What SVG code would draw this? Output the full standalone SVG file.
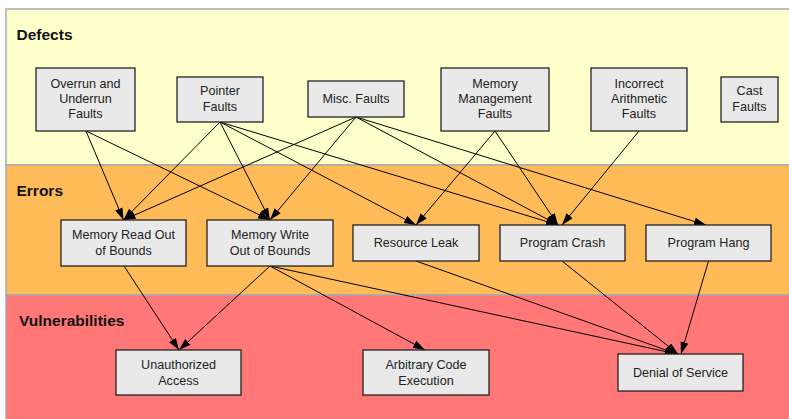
<svg xmlns="http://www.w3.org/2000/svg" width="789" height="419" viewBox="0 0 789 419">
<defs>
<marker id="arr" markerWidth="13" markerHeight="9" refX="12" refY="4" orient="auto" markerUnits="userSpaceOnUse">
<path d="M0,0 L12,4 L0,8 z" fill="#000"/>
</marker>
<style>
.band{stroke:#aaaaaa;stroke-width:1.5}
.title{font-family:"Liberation Sans",Arial,sans-serif;font-weight:bold;font-size:15.5px;fill:#111}
.box{fill:#e9e9e9;stroke:#222;stroke-width:1.3}
.lbl{font-family:"Liberation Sans",Arial,sans-serif;font-size:12.6px;fill:#222;text-anchor:middle}
.edge{stroke:#000;stroke-width:1;fill:none;marker-end:url(#arr)}
</style>
</defs>
<rect width="789" height="419" fill="#ffffff"/>
<g id="bands">
<rect class="band" x="6" y="9" width="790" height="156" fill="#ffffcc"/>
<rect class="band" x="6" y="165" width="790" height="130" fill="#ffbb58"/>
<rect class="band" x="6" y="295" width="790" height="130" fill="#ff7777"/>
<text class="title" x="16.5" y="40">Defects</text>
<text class="title" x="16.5" y="196">Errors</text>
<text class="title" x="19" y="326">Vulnerabilities</text>
</g>
<g id="connectors">
<line class="edge" x1="86" y1="131" x2="123.5" y2="220"/>
<line class="edge" x1="86" y1="131" x2="270" y2="220"/>
<line class="edge" x1="220" y1="122" x2="123.5" y2="220"/>
<line class="edge" x1="220" y1="122" x2="270" y2="220"/>
<line class="edge" x1="220" y1="122" x2="416" y2="225"/>
<line class="edge" x1="220" y1="122" x2="558" y2="225"/>
<line class="edge" x1="356" y1="117" x2="123.5" y2="220"/>
<line class="edge" x1="356" y1="117" x2="270" y2="220"/>
<line class="edge" x1="356" y1="117" x2="558" y2="225"/>
<line class="edge" x1="356" y1="117" x2="706" y2="225"/>
<line class="edge" x1="495" y1="131" x2="416" y2="225"/>
<line class="edge" x1="495" y1="131" x2="558" y2="225"/>
<line class="edge" x1="639" y1="131" x2="562" y2="225"/>
<line class="edge" x1="124" y1="266" x2="179" y2="350"/>
<line class="edge" x1="270" y1="266" x2="179" y2="350"/>
<line class="edge" x1="270" y1="266" x2="425" y2="350"/>
<line class="edge" x1="270" y1="266" x2="677" y2="354"/>
<line class="edge" x1="416" y1="261" x2="677" y2="354"/>
<line class="edge" x1="562" y1="261" x2="678" y2="354"/>
<line class="edge" x1="708.5" y1="261" x2="681" y2="354"/>
</g>
<g id="n-overrun"><rect class="box" x="36" y="68" width="99" height="63"/><text class="lbl" x="85.5" y="88">Overrun and</text><text class="lbl" x="85.5" y="103">Underrun</text><text class="lbl" x="85.5" y="118">Faults</text></g>
<g id="n-pointer"><rect class="box" x="177" y="77" width="86" height="45"/><text class="lbl" x="220" y="95">Pointer</text><text class="lbl" x="220" y="110.5">Faults</text></g>
<g id="n-misc"><rect class="box" x="308" y="81" width="96" height="36"/><text class="lbl" x="356" y="103.3">Misc. Faults</text></g>
<g id="n-memmgmt"><rect class="box" x="441" y="68" width="108" height="63"/><text class="lbl" x="495" y="88">Memory</text><text class="lbl" x="495" y="103">Management</text><text class="lbl" x="495" y="118">Faults</text></g>
<g id="n-arith"><rect class="box" x="591" y="68" width="96" height="63"/><text class="lbl" x="639" y="88">Incorrect</text><text class="lbl" x="639" y="103">Arithmetic</text><text class="lbl" x="639" y="118">Faults</text></g>
<g id="n-cast"><rect class="box" x="721" y="77" width="57" height="45"/><text class="lbl" x="749.5" y="95">Cast</text><text class="lbl" x="749.5" y="110.5">Faults</text></g>
<g id="n-mread"><rect class="box" x="61" y="220" width="125" height="46"/><text class="lbl" x="123.5" y="239">Memory Read Out</text><text class="lbl" x="123.5" y="254.5">of Bounds</text></g>
<g id="n-mwrite"><rect class="box" x="207" y="220" width="126" height="46"/><text class="lbl" x="270" y="239">Memory Write</text><text class="lbl" x="270" y="254.5">Out of Bounds</text></g>
<g id="n-leak"><rect class="box" x="353" y="225" width="126" height="36"/><text class="lbl" x="416" y="247">Resource Leak</text></g>
<g id="n-crash"><rect class="box" x="500" y="225" width="125" height="36"/><text class="lbl" x="562.5" y="247">Program Crash</text></g>
<g id="n-hang"><rect class="box" x="646" y="225" width="125" height="36"/><text class="lbl" x="708.5" y="247">Program Hang</text></g>
<g id="n-unauth"><rect class="box" x="116" y="350" width="125" height="45"/><text class="lbl" x="178.5" y="369">Unauthorized</text><text class="lbl" x="178.5" y="384.5">Access</text></g>
<g id="n-ace"><rect class="box" x="363" y="350" width="126" height="45"/><text class="lbl" x="426" y="369">Arbitrary Code</text><text class="lbl" x="426" y="384.5">Execution</text></g>
<g id="n-dos"><rect class="box" x="618" y="354" width="125" height="37"/><text class="lbl" x="680.5" y="377">Denial of Service</text></g>
</svg>
